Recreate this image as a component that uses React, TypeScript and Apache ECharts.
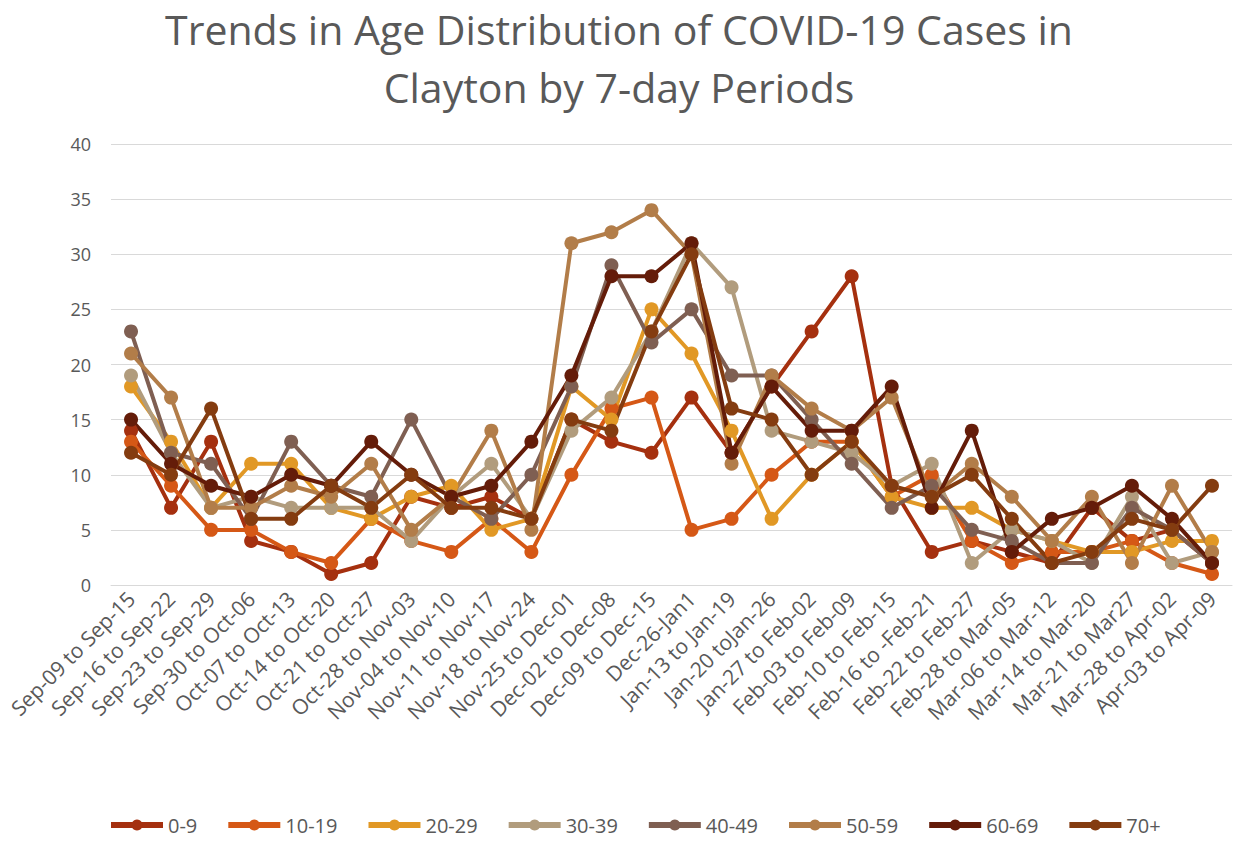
import React, { useEffect, useRef } from "react";
import * as echarts from "echarts";

const categories = [
  "Sep-09 to Sep-15", "Sep-16 to Sep-22", "Sep-23 to Sep-29", "Sep-30 to Oct-06",
  "Oct-07 to Oct-13", "Oct-14 to Oct-20", "Oct-21 to Oct-27", "Oct-28 to Nov-03",
  "Nov-04 to Nov-10", "Nov-11 to Nov-17", "Nov-18 to Nov-24", "Nov-25 to Dec-01",
  "Dec-02 to Dec-08", "Dec-09 to Dec-15", "Dec-26-Jan1", "Jan-13 to Jan-19",
  "Jan-20 toJan-26", "Jan-27 to Feb-02", "Feb-03 to Feb-09", "Feb-10 to Feb-15",
  "Feb-16 to -Feb-21", "Feb-22 to Feb-27", "Feb-28 to Mar-05", "Mar-06 to Mar-12",
  "Mar-14 to Mar-20", "Mar-21 to Mar27", "Mar-28 to Apr-02", "Apr-03 to Apr-09",
];

const age0_9 = [14, 7, 13, 4, 3, 1, 2, 8, 7, 8, 6, 15, 13, 12, 17, 12, 18, 23, 28, 9, 3, 4, 3, 2, 7, 4, 5, 2];
const age10_19 = [13, 9, 5, 5, 3, 2, 6, 4, 3, 6, 3, 10, 16, 17, 5, 6, 10, 13, 13, 8, 10, 4, 2, 3, 3, 4, 2, 1];
const age20_29 = [18, 13, 7, 11, 11, 7, 6, 8, 9, 5, 6, 18, 15, 25, 21, 14, 6, 10, 13, 8, 7, 7, 5, 4, 3, 3, 4, 4];
const age30_39 = [19, 12, 7, 8, 7, 7, 7, 4, 8, 11, 6, 14, 17, 23, 31, 27, 14, 13, 12, 9, 11, 2, 5, 4, 2, 8, 2, 3];
const age40_49 = [23, 12, 11, 6, 13, 9, 8, 15, 8, 6, 10, 18, 29, 22, 25, 19, 19, 15, 11, 7, 9, 5, 4, 2, 2, 7, 5, 2];
const age50_59 = [21, 17, 7, 7, 9, 8, 11, 5, 8, 14, 5, 31, 32, 34, 30, 11, 19, 16, 14, 17, 8, 11, 8, 4, 8, 2, 9, 3];
const age60_69 = [15, 11, 9, 8, 10, 9, 13, 10, 8, 9, 13, 19, 28, 28, 31, 12, 18, 14, 14, 18, 7, 14, 3, 6, 7, 9, 6, 2];
const age70p = [12, 10, 16, 6, 6, 9, 7, 10, 7, 7, 6, 15, 14, 23, 30, 16, 15, 10, 13, 9, 8, 10, 6, 2, 3, 6, 5, 9];

const seriesNames = ["0-9", "10-19", "20-29", "30-39", "40-49", "50-59", "60-69", "70+"];
const seriesData = [age0_9, age10_19, age20_29, age30_39, age40_49, age50_59, age60_69, age70p];
const colors = ["#A5300F", "#D55816", "#E19825", "#B19C7D", "#7F5F52", "#B27D49", "#641C09", "#843C10"];

export default function App() {
  const ref = useRef<HTMLDivElement>(null);
  useEffect(() => {
    document.body.style.margin = "0";
    const chart = echarts.init(ref.current!, null, { renderer: "svg" });
    const font = "'Open Sans', 'Liberation Sans', sans-serif";
    chart.setOption({
      animation: false,
      backgroundColor: "#ffffff",
      color: colors,
      title: {
        text: "Trends in Age Distribution of COVID-19 Cases in\nClayton by 7-day Periods",
        left: "center",
        top: 0,
        padding: 0,
        textStyle: {
          fontFamily: font,
          fontSize: 41,
          fontWeight: "normal",
          color: "#595959",
          lineHeight: 58,
        },
      },
      legend: {
        bottom: 2,
        left: 103,
        itemWidth: 52,
        itemHeight: 14,
        itemGap: 28,
        lineStyle: { width: 6 },
        textStyle: { fontFamily: font, fontSize: 20, color: "#595959" },
        data: seriesNames,
      },
      grid: { left: 111, right: 6, top: 144, bottom: 257 },
      xAxis: {
        type: "category",
        data: categories,
        boundaryGap: true,
        axisLine: { lineStyle: { color: "#d9d9d9" } },
        axisTick: { show: false },
        axisLabel: {
          interval: 0,
          rotate: 45,
          fontFamily: font,
          fontSize: 21,
          color: "#595959",
          margin: 10,
        },
      },
      yAxis: {
        type: "value",
        min: 0,
        max: 40,
        interval: 5,
        axisLine: { show: false },
        axisTick: { show: false },
        splitLine: { lineStyle: { color: "#d9d9d9", width: 1 } },
        axisLabel: { fontFamily: font, fontSize: 18, color: "#595959", margin: 20 },
      },
      series: seriesNames.map((name, i) => ({
        name,
        type: "line",
        data: seriesData[i],
        symbol: "circle",
        symbolSize: 14,
        lineStyle: { width: 4, color: colors[i] },
        itemStyle: { color: colors[i] },
      })),
    });
    return () => chart.dispose();
  }, []);
  return (
    <div
      ref={ref}
      style={{ position: "absolute", left: 0, top: 0, width: 1238, height: 842 }}
    />
  );
}
